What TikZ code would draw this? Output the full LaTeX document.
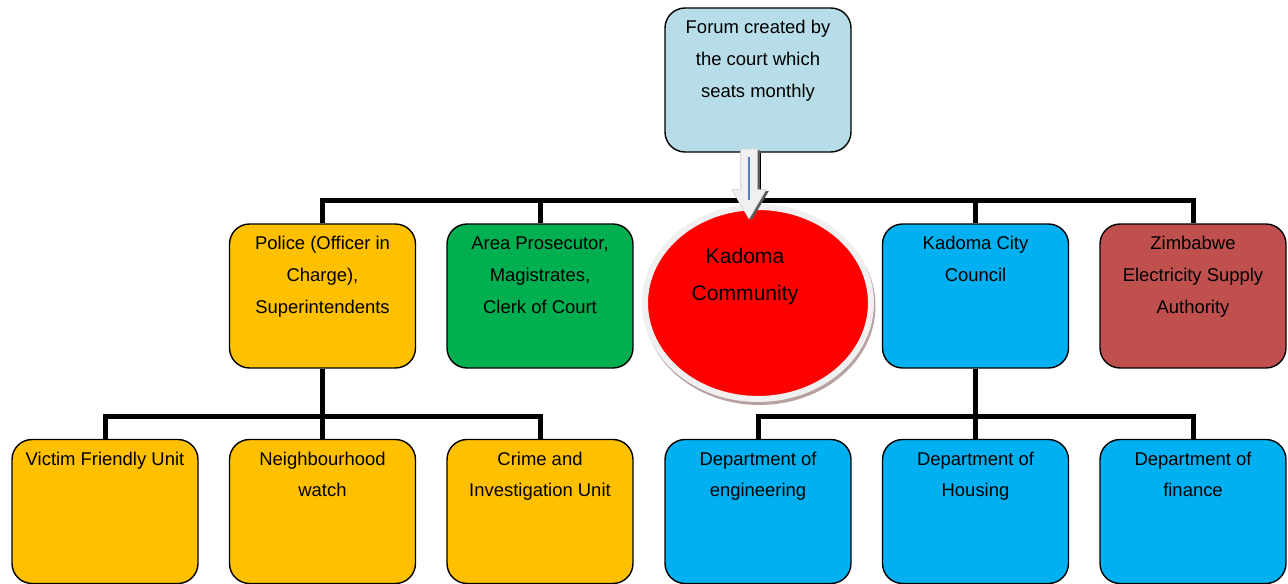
\documentclass[tikz,border=0pt]{standalone}
\usepackage{fontspec}
\setmainfont{Liberation Sans}
\usepackage{xcolor}
\usetikzlibrary{shapes.geometric,shapes.arrows,shadows}
\definecolor{forum}{RGB}{183,222,232}
\definecolor{police}{RGB}{255,192,0}
\definecolor{court}{RGB}{0,176,80}
\definecolor{council}{RGB}{0,176,240}
\definecolor{zesa}{RGB}{192,80,77}
\definecolor{community}{RGB}{255,0,0}
\definecolor{ring}{RGB}{240,240,240}
\definecolor{ringshade}{RGB}{185,160,160}
\definecolor{flowmark}{RGB}{79,129,189}
\tikzstyle{box}=[draw, line width=0.8pt, rounded corners=0.4cm, inner sep=0pt, minimum width=3.72cm, minimum height=2.88cm, font=\fontsize{10.5pt}{18.2pt}\selectfont]
\tikzstyle{forum}=[fill=forum]
\tikzstyle{police}=[fill=police]
\tikzstyle{court}=[fill=court]
\tikzstyle{council}=[fill=council]
\tikzstyle{zesa}=[fill=zesa]
\tikzstyle{hub}=[ellipse, fill=community, draw=ring, line width=0.12cm, minimum width=4.52cm, minimum height=3.84cm, preaction={draw=ringshade, fill=none, line width=0.12cm, transform canvas={xshift=0.03cm,yshift=-0.06cm}}]
\tikzstyle{hubtext}=[align=center, font=\fontsize{12pt}{21pt}\selectfont]
\tikzstyle{flow}=[single arrow, rotate=-90, anchor=tail, fill=ring, draw=gray!40, line width=0.3pt, inner xsep=0pt, inner ysep=0.16cm, minimum height=1.4cm, single arrow head extend=0.18cm, single arrow tip angle=61, drop shadow={shadow xshift=0.05cm, shadow yshift=-0.03cm, fill=gray!70!black, opacity=1}]
\tikzstyle{link}=[line width=0.1cm, line join=miter]
\newcommand{\boxtext}[1]{\parbox[t][2.88cm][t]{3.6cm}{\centering\rule{0pt}{0.51cm}#1}}

\begin{document}
\begin{tikzpicture}[x=0.02cm, y=-0.02cm]
  \useasboundingbox (0,0) rectangle (1288,584);

  %% Forum on top
  \draw (758,80) node[box,forum] (forum) {\boxtext{Forum created by\\the court which\\seats monthly}};

  %% Second row
  \draw (322.5,296) node[box,police] (police) {\boxtext{Police (Officer in\\Charge),\\Superintendents}};
  \draw (540,296) node[box,court] (court) {\boxtext{Area Prosecutor,\\Magistrates,\\Clerk of Court}};
  \draw (975.5,296) node[box,council] (council) {\boxtext{Kadoma City\\Council}};
  \draw (1193,296) node[box,zesa] (zesa) {\boxtext{Zimbabwe\\Electricity Supply\\Authority}};

  %% Third row
  \draw (105,511.5) node[box,police] (victim) {\boxtext{Victim Friendly Unit}};
  \draw (322.5,511.5) node[box,police] (watch) {\boxtext{Neighbourhood\\watch}};
  \draw (540,511.5) node[box,police] (cid) {\boxtext{Crime and\\Investigation Unit}};
  \draw (758,511.5) node[box,council] (eng) {\boxtext{Department of\\engineering}};
  \draw (975.5,511.5) node[box,council] (housing) {\boxtext{Department of\\Housing}};
  \draw (1193,511.5) node[box,council] (finance) {\boxtext{Department of\\finance}};

  %% Connectors
  \coordinate (topbus) at ([yshift=-0.96cm]forum.south);
  \coordinate (polbus) at ([yshift=-0.96cm]police.south);
  \coordinate (citybus) at ([yshift=-0.96cm]council.south);

  \draw[link] (forum.south) -- (topbus);
  \draw[link] (police.north) |- (topbus) -| (zesa.north);
  \draw[link] (court.north) -- (court.north |- topbus);
  \draw[link] (council.north) -- (council.north |- topbus);

  \draw[link] (victim.north) |- (polbus) -| (cid.north);
  \draw[link] (police.south) -- (watch.north);

  \draw[link] (eng.north) |- (citybus) -| (finance.north);
  \draw[link] (council.south) -- (housing.north);

  %% Community in the middle
  \draw (758,303) node[hub] (comm) {};
  \draw ([xshift=-0.26cm,yshift=0.53cm]comm.center) node[hubtext] (commtext) {Kadoma\\Community};

  \draw ([xshift=-0.18cm,yshift=0.08cm]forum.south) node[flow] (feed) {};
  \draw[flowmark, line width=0.6pt] ([yshift=-0.16cm]feed.tail) -- ([yshift=0.38cm]feed.tip);
\end{tikzpicture}
\end{document}
